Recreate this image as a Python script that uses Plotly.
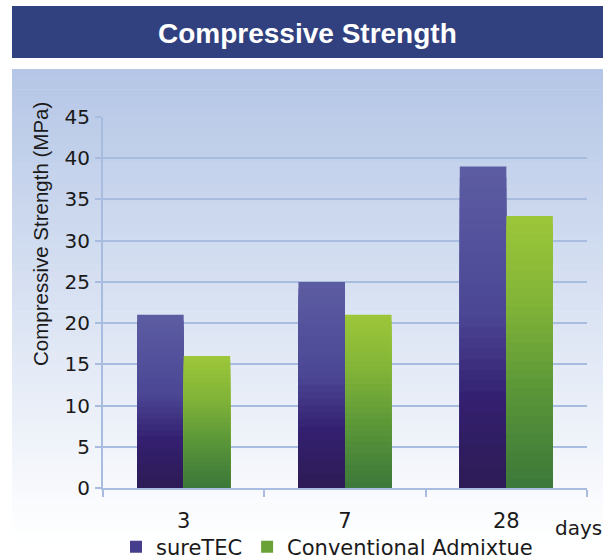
import plotly.graph_objects as go

categories = ["3", "7", "28"]
suretec = [21, 25, 39]
conventional = [16, 21, 33]
series_names = ["sureTEC", "Conventional Admixtue"]
y_ticks = [0, 5, 10, 15, 20, 25, 30, 35, 40, 45]
grid_vals = [5, 10, 15, 20, 25, 30, 35, 40]

W, H = 608, 559
# plot area in pixels: x 103..587, y 117..488
L, R, T, B = 103, 608 - 587, 117, 559 - 488
PW, PH = W - L - R, H - T - B

def px_x(p):
    return (p - L) / PW

def px_y(p):
    return (H - B - p) / PH

def interp(stops, f):
    for (f0, c0), (f1, c1) in zip(stops, stops[1:]):
        if f0 <= f <= f1:
            t = (f - f0) / (f1 - f0) if f1 > f0 else 0
            return "rgb(%d,%d,%d)" % tuple(round(a + (b - a) * t) for a, b in zip(c0, c1))
    return "rgb(%d,%d,%d)" % stops[-1][1]

purple_stops = [(0.0, (44, 27, 84)), (0.3, (52, 32, 112)), (0.55, (74, 70, 148)), (1.0, (92, 92, 162))]
green_stops = [(0.0, (58, 118, 58)), (0.35, (88, 148, 56)), (0.7, (130, 180, 56)), (1.0, (156, 198, 58))]

fig = go.Figure()
N = 30
for name, vals, stops, grp in [(series_names[0], suretec, purple_stops, "a"),
                               (series_names[1], conventional, green_stops, "b")]:
    for k in range(N):
        f = 1 - k / N
        fig.add_trace(go.Bar(
            x=categories, y=[v * f for v in vals], name=name,
            offsetgroup=grp, legendgroup=grp, showlegend=(k == N // 2),
            marker=dict(color=interp(stops, f), line=dict(width=0)),
            hoverinfo="skip",
        ))

# invisible trace to carry the grid on a second y axis (no gridline at 45)
fig.add_trace(go.Scatter(x=categories, y=suretec, yaxis="y2", mode="none",
                         showlegend=False, hoverinfo="skip"))

shapes = []
top_c, bot_c = (180, 198, 230), (255, 255, 255)
y0p, y1p = 69, 540
nb = 70
for i in range(nb):
    a = y0p + (y1p - y0p) * i / nb
    b = y0p + (y1p - y0p) * (i + 1) / nb
    t = (i + 0.5) / nb
    c = tuple(round(x + (y - x) * t) for x, y in zip(top_c, bot_c))
    shapes.append(dict(type="rect", xref="paper", yref="paper", layer="below",
                       x0=px_x(12), x1=px_x(603), y0=px_y(b + 0.6), y1=px_y(a),
                       fillcolor="rgb(%d,%d,%d)" % c, line=dict(width=0)))
shapes.append(dict(type="rect", xref="paper", yref="paper", layer="below",
                   x0=px_x(12), x1=px_x(603), y0=px_y(58), y1=px_y(6),
                   fillcolor="#31417f", line=dict(width=0)))

axis_col = "#a8bce0"
txt = "#1a1a1a"
fig.update_layout(
    width=W, height=H,
    margin=dict(l=L, r=R, t=T, b=B, pad=0, autoexpand=False),
    paper_bgcolor="white", plot_bgcolor="rgba(0,0,0,0)",
    barmode="group", bargap=0.423, bargroupgap=0,
    shapes=shapes,
    font=dict(family="DejaVu Sans", color=txt),
    showlegend=True,
    legend=dict(orientation="h", x=px_x(116), xanchor="left", y=px_y(547), yanchor="middle",
                font=dict(size=21, family="DejaVu Sans", color=txt),
                bgcolor="rgba(0,0,0,0)", itemsizing="constant", tracegroupgap=0),
    annotations=[
        dict(text="<b>Compressive Strength</b>", xref="paper", yref="paper",
             x=px_x(307), y=px_y(33), xanchor="center", yanchor="middle", showarrow=False,
             font=dict(size=28, color="white", family="Liberation Sans")),
        dict(text="days", xref="paper", yref="paper", x=px_x(578), y=px_y(528),
             xanchor="center", yanchor="middle", showarrow=False,
             font=dict(size=20, family="DejaVu Sans", color=txt)),
        dict(text="Compressive Strength (MPa)", xref="paper", yref="paper", x=px_x(40), y=px_y(234),
             xanchor="center", yanchor="middle", showarrow=False, textangle=-90,
             font=dict(size=20.5, family="Liberation Sans", color=txt)),
    ],
    yaxis=dict(range=[0, 45], tickvals=y_ticks, showgrid=False,
               showline=True, linecolor=axis_col, linewidth=2, ticks="outside", ticklen=6,
               tickcolor=axis_col, tickwidth=2, zeroline=False, ticklabelstandoff=1,
               tickfont=dict(size=20, family="DejaVu Sans", color=txt)),
    yaxis2=dict(range=[0, 45], tickvals=grid_vals, overlaying="y", showgrid=True,
                gridcolor=axis_col, gridwidth=2, showticklabels=False, ticks="",
                showline=False, zeroline=False, layer="below traces"),
    xaxis=dict(type="category", showline=True, linecolor=axis_col, linewidth=2,
               ticks="outside", tickson="boundaries", ticklen=7, tickcolor=axis_col, tickwidth=2,
               showgrid=False, ticklabelstandoff=13,
               tickfont=dict(size=21, family="DejaVu Sans", color=txt)),
)
# remove the default 8px page margin so the figure fills the window exactly
fig.write_html("out.html", config={"displayModeBar": False},
               post_script="document.body.style.margin='0';")
